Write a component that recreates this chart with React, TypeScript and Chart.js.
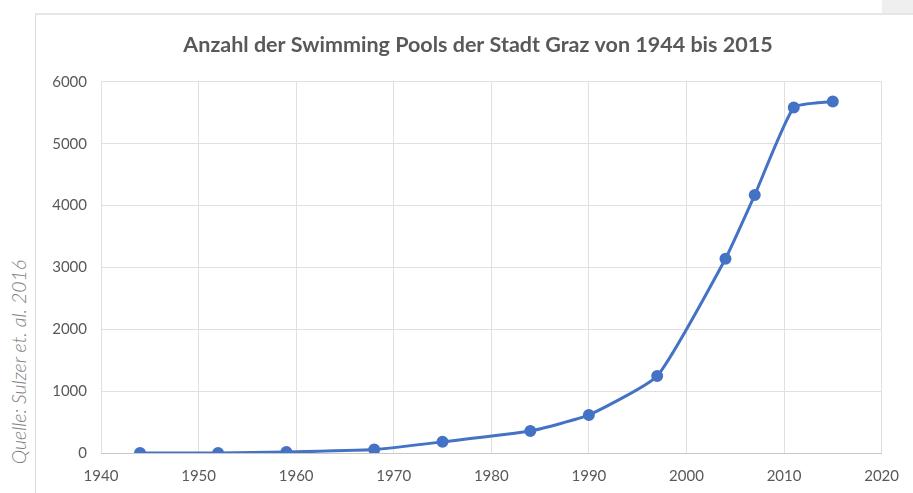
import React, { useEffect, useRef } from "react";
import { Chart, registerables } from "chart.js";

Chart.register(...registerables);

const titleText = "Anzahl der Swimming Pools der Stadt Graz von 1944 bis 2015";
const sourceText = "Quelle: Sulzer et. al. 2016";
const years = [1944, 1952, 1959, 1968, 1975, 1984, 1990, 1997, 2004, 2007, 2011, 2015];
const pools = [0, 0, 15, 55, 180, 355, 615, 1245, 3140, 4170, 5585, 5680];
const xMin = 1940;
const xMax = 2020;
const xStep = 10;
const yMin = 0;
const yMax = 6000;
const yStep = 1000;

const unclipYLabels = {
  id: "unclipYLabels",
  afterLayout(chart: any) {
    const y = chart.scales.y;
    if (y) y.left = 0;
  },
};

export default function App() {
  const ref = useRef<HTMLCanvasElement | null>(null);

  useEffect(() => {
    if (!ref.current) return;
    const chart = new Chart(ref.current, {
      type: "line",
      data: {
        datasets: [
          {
            data: years.map((y, i) => ({ x: y, y: pools[i] })),
            borderColor: "#4472C4",
            backgroundColor: "#4472C4",
            borderWidth: 3,
            pointRadius: 4.5,
            pointHoverRadius: 4.5,
            tension: 0.15,
          },
        ],
      },
      plugins: [unclipYLabels],
      options: {
        animation: false,
        responsive: false,
        layout: { padding: { left: 34, right: 27, top: 0, bottom: 0 } },
        plugins: {
          legend: { display: false },
          tooltip: { enabled: false },
          title: {
            display: true,
            text: titleText,
            color: "#595959",
            font: { family: "Lato, 'Open Sans', sans-serif", size: 21.5, weight: "bold" },
            padding: { top: 18, bottom: 24 },
          },
        },
        scales: {
          x: {
            type: "linear",
            min: xMin,
            max: xMax,
            ticks: {
              stepSize: xStep,
              color: "#595959",
              padding: 14,
              font: { family: "Lato, sans-serif", size: 15 },
              callback: (v: any) => String(v),
            },
            grid: { color: "#e0e0e0", drawTicks: false },
            border: { color: "#c8c8c8" },
            afterFit: (s: any) => {
              s.height = 40;
            },
          },
          y: {
            min: yMin,
            max: yMax,
            ticks: {
              stepSize: yStep,
              color: "#595959",
              padding: 14,
              font: { family: "Lato, sans-serif", size: 15 },
              callback: (v: any) => String(v),
            },
            grid: { color: "#e0e0e0", drawTicks: false },
            border: { display: false },
            afterFit: (s: any) => {
              s.width = 31;
            },
          },
        },
      },
    });
    return () => chart.destroy();
  }, []);

  return (
    <div style={{ position: "fixed", left: 0, top: 0, width: 913, height: 493, background: "#fff", overflow: "hidden" }}>
      <div style={{ position: "absolute", left: 882, top: 0, width: 31, height: 13, background: "#efefef" }} />
      <div
        style={{
          position: "absolute",
          left: 35,
          top: 13,
          width: 900,
          height: 500,
          borderLeft: "1px solid #dcdcdc",
          borderTop: "2px solid #e6e6e6",
          boxSizing: "border-box",
        }}
      />
      <div
        style={{
          position: "absolute",
          left: 18,
          top: 362,
          transform: "translate(-50%, -50%) rotate(-90deg)",
          whiteSpace: "nowrap",
          fontFamily: "Lato, sans-serif",
          fontStyle: "italic",
          fontWeight: 300,
          fontSize: 19.5,
          color: "#808080",
        }}
      >
        {sourceText}
      </div>
      <canvas ref={ref} width={877} height={479} style={{ position: "absolute", left: 36, top: 14, width: 877, height: 479 }} />
    </div>
  );
}
